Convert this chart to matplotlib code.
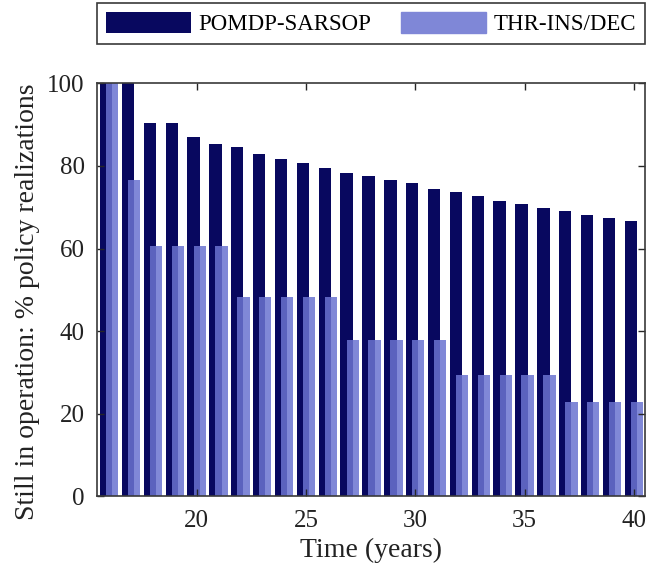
import matplotlib
matplotlib.use("Agg")
import matplotlib.pyplot as plt
import numpy as np

years = np.arange(16, 41)
pomdp_sarsop = [100, 100, 90.3, 90.3, 87.0, 85.2, 84.6, 82.8, 81.6, 80.6,
                79.6, 78.4, 77.5, 76.6, 75.8, 74.3, 73.8, 72.8, 71.6, 70.9,
                69.9, 69.2, 68.0, 67.4, 66.7]
thr_ins_dec = [100, 76.6, 60.7, 60.7, 60.7, 60.7, 48.3, 48.3, 48.3, 48.3,
               48.3, 37.8, 37.8, 37.8, 37.8, 37.8, 29.3, 29.3, 29.3, 29.3,
               29.3, 22.8, 22.8, 22.8, 22.8]

DARK = "#08085f"
LIGHT = "#6a73d0"

plt.rcParams["font.family"] = ["Liberation Serif", "DejaVu Serif"]

fig = plt.figure(figsize=(6.52, 5.75), dpi=100)
ax = fig.add_axes([0.149, 0.137, 0.840, 0.718])

width = 0.565
ax.bar(years - 0.14, pomdp_sarsop, width, color=DARK, label="POMDP-SARSOP")
ax.bar(years + 0.14, thr_ins_dec, width, color=LIGHT, alpha=0.85,
       label="THR-INS/DEC")

ax.set_xlim(15.45, 40.5)
ax.set_ylim(0, 100)
ax.set_xticks([20, 25, 30, 35, 40])
ax.set_yticks([0, 20, 40, 60, 80, 100])
ax.tick_params(direction="in", length=5, width=1, top=True, right=True,
               labelsize=18, colors="#262626", labelcolor="#222222")
ax.tick_params(axis="x", pad=10)
ax.tick_params(axis="y", pad=9)
for s in ax.spines.values():
    s.set_color("#3a3a3a")
    s.set_linewidth(1.2)

ax.set_xlabel("Time (years)", fontsize=20, color="#222222", labelpad=4)
ax.set_ylabel("Still in operation: % policy realizations", fontsize=20,
              color="#222222")
ax.yaxis.set_label_coords(-0.104, 0.47)

leg = ax.legend(loc="lower left", bbox_to_anchor=(0, 1.0945, 1, 0.0897),
                mode="expand", ncol=2, borderaxespad=0, fontsize=16.5,
                handlelength=3.7, handleheight=1.0, handletextpad=0.3,
                fancybox=False, edgecolor="#3a3a3a", framealpha=1)
leg.get_frame().set_linewidth(1.2)
for h in leg.legend_handles:
    h.set_alpha(1)
leg.legend_handles[1].set_color("#7f87d7")

fig.savefig("out.png", dpi=100)
